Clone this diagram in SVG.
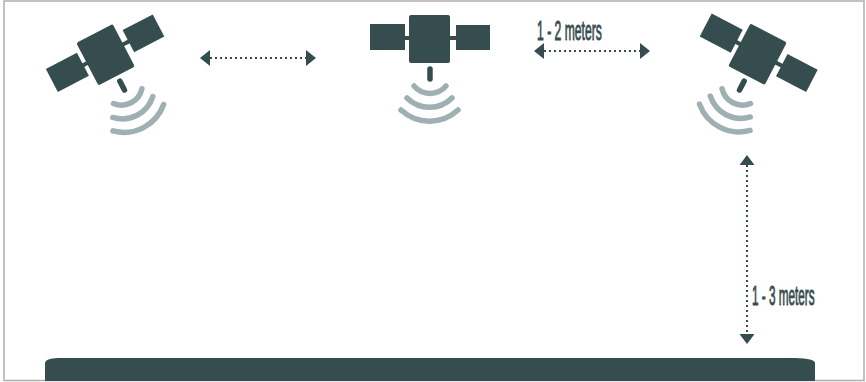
<svg xmlns="http://www.w3.org/2000/svg" width="866" height="382" viewBox="0 0 866 382">
<style>
.d{fill:#364d4f}
.l{stroke:#364d4f;stroke-width:2;stroke-dasharray:2 3;fill:none}
.w{fill:none;stroke:#9fb0b3;stroke-width:5.5;stroke-linecap:round}
.a{fill:none;stroke:#364d4f;stroke-width:5.5;stroke-linecap:round}
.t{font-family:"Liberation Sans",Arial,sans-serif;font-size:27px;fill:#364d4f;stroke:#364d4f;stroke-width:.9}
</style>
<defs>
<g id="sat">
<rect class="d" x="-21" y="-24" width="41" height="48" rx="2"/>
<rect class="d" x="-60" y="-15" width="35" height="26"/>
<rect class="d" x="26" y="-14" width="34" height="25"/>
<rect class="d" x="-26" y="-3" width="6" height="4"/>
<rect class="d" x="19" y="-3" width="8" height="4"/>
<path class="a" d="M0 30V40"/>
<path class="w" d="M-16 47A21 21 0 0 0 16 47"/>
<path class="w" d="M-23 59A32 32 0 0 0 22 59"/>
<path class="w" d="M-29 71A42 42 0 0 0 28 71"/>
</g>
</defs>
<rect x="4" y="1" width="860" height="379.500" fill="#fff" stroke="#aeaeae" stroke-width="1.500"/>
<g id="satellite-left"><use href="#sat" transform="translate(106 54.500) rotate(-27.500)"/></g>
<g id="satellite-middle"><use href="#sat" transform="translate(430 39)"/></g>
<g id="satellite-right"><use href="#sat" transform="translate(758 54.500) rotate(27.500)"/></g>
<g id="ground"><path class="d" d="M45 381V363Q45 358.500 58 358H795Q815 358.500 815 363V381Z"/></g>
<g id="connectors">
<path class="l" d="M210 58H306"/>
<path class="d" d="M200 58L210 50V66ZM316 58L306 50V66Z"/>
<path class="l" d="M544 51H640"/>
<path class="d" d="M534 51L544 43V59ZM650 51L640 43V59Z"/>
<path class="l" d="M747 165V334"/>
<path class="d" d="M747 155L754.500 165H739.500ZM747 344L739.500 334H754.500Z"/>
</g>
<g id="labels">
<text class="t" transform="translate(537 39.500) scale(.45 1)">1 - 2 meters</text>
<text class="t" transform="translate(752 305) scale(.435 1)">1 - 3 meters</text>
</g>
</svg>
